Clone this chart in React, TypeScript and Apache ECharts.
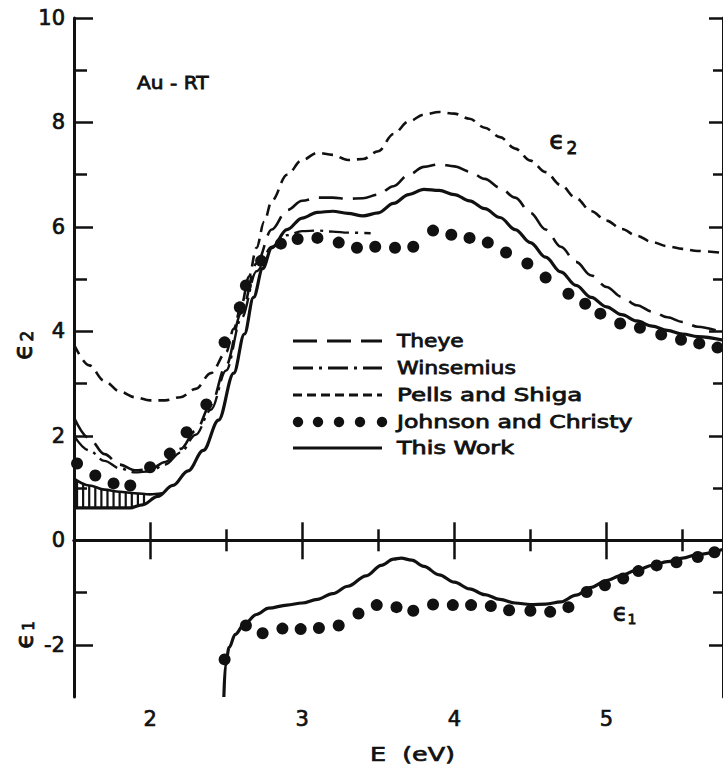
import React, { useEffect, useRef } from 'react';
import * as echarts from 'echarts';

const FONT = 'DejaVu Sans';
const INK = '#111';

// Axis ranges / ticks
const X_MIN = 1.5;
const X_MAX = 5.766;
const Y_MIN = -3;
const Y_MAX = 10;
const X_MAJOR = [2, 3, 4, 5];
const X_MINOR = [2.5, 3.5, 4.5, 5.5];
const Y_MAJOR = [-2, 0, 2, 4, 6, 8, 10];
const Y_MINOR = [-1, 1, 3, 5, 7, 9];

// eps2 curves
const PELLS_X = [1.5, 1.6, 1.7, 1.8, 1.9, 2.0, 2.1, 2.2, 2.3, 2.4, 2.5, 2.55, 2.6, 2.65, 2.7, 2.75, 2.8, 2.9, 3.0, 3.1, 3.2, 3.3, 3.4, 3.5, 3.6, 3.7, 3.8, 3.9, 4.0, 4.1, 4.2, 4.3, 4.4, 4.5, 4.6, 4.7, 4.8, 4.9, 5.0, 5.1, 5.2, 5.3, 5.4, 5.5, 5.6, 5.77];
const PELLS_Y = [3.75, 3.35, 3.05, 2.85, 2.74, 2.68, 2.68, 2.74, 2.9, 3.2, 3.6, 4.05, 4.5, 5.05, 5.6, 6.1, 6.5, 7.0, 7.28, 7.42, 7.38, 7.28, 7.3, 7.45, 7.78, 8.02, 8.15, 8.2, 8.17, 8.07, 7.9, 7.72, 7.5, 7.27, 7.05, 6.8, 6.55, 6.3, 6.12, 5.96, 5.83, 5.71, 5.63, 5.58, 5.54, 5.5];

const THEYE_X = [1.5, 1.6, 1.7, 1.8, 1.9, 2.0, 2.1, 2.2, 2.3, 2.4, 2.5, 2.6, 2.7, 2.8, 2.9, 3.0, 3.1, 3.2, 3.3, 3.4, 3.5, 3.6, 3.7, 3.8, 3.9, 4.0, 4.1, 4.2, 4.3, 4.4, 4.5, 4.6, 4.7, 4.8, 4.9, 5.0, 5.1, 5.2, 5.3, 5.4, 5.5, 5.6, 5.77];
const THEYE_Y = [2.35, 1.95, 1.65, 1.45, 1.34, 1.36, 1.5, 1.75, 2.1, 2.6, 3.35, 4.35, 5.3, 5.95, 6.32, 6.5, 6.56, 6.56, 6.54, 6.55, 6.62, 6.78, 7.0, 7.15, 7.2, 7.16, 7.06, 6.92, 6.75, 6.56, 6.27, 5.95, 5.62, 5.33, 5.07, 4.85, 4.66, 4.5, 4.38, 4.27, 4.18, 4.09, 3.97];

const WINS_X = [1.5, 1.6, 1.7, 1.8, 1.9, 2.0, 2.1, 2.2, 2.3, 2.4, 2.5, 2.6, 2.7, 2.8, 2.9, 3.0, 3.1, 3.2, 3.3, 3.45];
const WINS_Y = [2.0, 1.72, 1.52, 1.38, 1.3, 1.32, 1.45, 1.68, 2.02, 2.5, 3.25, 4.25, 5.15, 5.62, 5.84, 5.92, 5.93, 5.91, 5.89, 5.88];

const WORK2_X = [1.5, 1.87, 1.95, 2.05, 2.15, 2.25, 2.35, 2.45, 2.55, 2.62, 2.68, 2.74, 2.8, 2.9, 3.0, 3.1, 3.2, 3.3, 3.4, 3.5, 3.6, 3.7, 3.8, 3.9, 4.0, 4.1, 4.2, 4.3, 4.4, 4.5, 4.6, 4.7, 4.8, 4.9, 5.0, 5.1, 5.2, 5.3, 5.4, 5.5, 5.6, 5.77];
const WORK2_Y = [0.62, 0.62, 0.68, 0.84, 1.05, 1.33, 1.72, 2.3, 3.2, 3.95, 4.65, 5.2, 5.6, 5.95, 6.17, 6.28, 6.3, 6.26, 6.21, 6.27, 6.45, 6.62, 6.72, 6.7, 6.62, 6.5, 6.35, 6.18, 5.95, 5.7, 5.42, 5.14, 4.88, 4.65, 4.47, 4.32, 4.2, 4.1, 4.02, 3.95, 3.9, 3.83];

// upper bound of "This Work" at low energy (hatched range)
const WORK2_UP_X = [1.5, 1.6, 1.7, 1.8, 1.9, 2.0, 2.08];
const WORK2_UP_Y = [1.18, 1.05, 0.97, 0.93, 0.9, 0.88, 0.9];
const HATCH_X = [1.52, 1.56, 1.6, 1.64, 1.68, 1.72, 1.76, 1.8, 1.84, 1.88, 1.92, 1.96];
const HATCH_TOP = [1.15, 1.1, 1.06, 1.02, 0.99, 0.97, 0.95, 0.93, 0.92, 0.91, 0.9, 0.89];
const HATCH_BOTTOM = [0.62, 0.62, 0.62, 0.62, 0.62, 0.62, 0.62, 0.62, 0.62, 0.63, 0.65, 0.69];

const JC2_X = [1.52, 1.64, 1.76, 1.87, 2.0, 2.13, 2.24, 2.37, 2.49, 2.59, 2.63, 2.73, 2.86, 2.97, 3.1, 3.24, 3.36, 3.48, 3.61, 3.73, 3.86, 3.98, 4.1, 4.22, 4.34, 4.48, 4.6, 4.75, 4.86, 4.96, 5.09, 5.22, 5.36, 5.49, 5.61, 5.73];
const JC2_Y = [1.47, 1.24, 1.09, 1.05, 1.4, 1.66, 2.07, 2.6, 3.79, 4.46, 4.88, 5.35, 5.68, 5.77, 5.79, 5.7, 5.6, 5.62, 5.6, 5.62, 5.93, 5.85, 5.79, 5.7, 5.51, 5.3, 5.03, 4.72, 4.53, 4.34, 4.15, 4.07, 3.94, 3.84, 3.77, 3.69];

// eps1 curves
const WORK1_X = [2.485, 2.495, 2.52, 2.56, 2.62, 2.7, 2.78, 2.9, 3.0, 3.1, 3.2, 3.3, 3.42, 3.52, 3.6, 3.65, 3.72, 3.8, 3.9, 4.0, 4.1, 4.2, 4.3, 4.4, 4.5, 4.6, 4.7, 4.8, 4.9, 5.0, 5.1, 5.2, 5.3, 5.4, 5.5, 5.6, 5.77];
const WORK1_Y = [-3.0, -2.4, -2.05, -1.8, -1.6, -1.42, -1.3, -1.24, -1.2, -1.13, -1.02, -0.88, -0.68, -0.48, -0.36, -0.34, -0.38, -0.5, -0.66, -0.8, -0.93, -1.04, -1.13, -1.2, -1.23, -1.22, -1.18, -1.05, -0.9, -0.77, -0.67, -0.57, -0.48, -0.41, -0.34, -0.27, -0.17];

const JC1_X = [2.49, 2.63, 2.74, 2.87, 2.99, 3.11, 3.24, 3.37, 3.49, 3.62, 3.73, 3.86, 3.99, 4.11, 4.24, 4.36, 4.5, 4.63, 4.75, 4.87, 4.99, 5.11, 5.21, 5.33, 5.46, 5.6, 5.71];
const JC1_Y = [-2.28, -1.63, -1.78, -1.69, -1.7, -1.68, -1.63, -1.4, -1.24, -1.28, -1.35, -1.23, -1.24, -1.24, -1.26, -1.34, -1.35, -1.37, -1.28, -0.99, -0.86, -0.73, -0.59, -0.48, -0.42, -0.32, -0.23];

// Legend
const LEGEND_LABELS = ['Theye', 'Winsemius', 'Pells and Shiga', 'Johnson and Christy', 'This Work'];

const zip = (xs: number[], ys: number[]) => xs.map((x, i) => [x, ys[i]]);

const DASH_THEYE = [24, 10];
const DASH_WINS = [20, 6, 3, 6];
const DASH_PELLS = [11, 7];

function buildOption() {
  const xBase = { type: 'value', min: X_MIN, max: X_MAX, splitLine: { show: false } };
  const yBase = { type: 'value', min: Y_MIN, max: Y_MAX, splitLine: { show: false } };
  const axisLineOn = { show: true, lineStyle: { color: INK, width: 3 } };
  const tick = (vals: number[], len: number) => ({
    show: true,
    inside: true,
    length: len,
    customValues: vals,
    lineStyle: { color: INK, width: 2.5 },
  });
  const noLabel = { show: false };
  const labelStyle = { color: INK, fontSize: 21, fontFamily: FONT, textBorderColor: INK, textBorderWidth: 0.7 };

  const lineSeries = (name: string, xs: number[], ys: number[], type: any, width: number) => ({
    name,
    type: 'line',
    data: zip(xs, ys),
    smooth: 0.35,
    smoothMonotone: 'x',
    showSymbol: false,
    symbol: 'none',
    silent: true,
    lineStyle: { color: INK, width, type, cap: 'butt' },
    z: 3,
  });

  const legendRows = [341, 368, 395, 422, 448];
  const legendScale = [1.21, 1.22, 1.36, 1.31, 1.33];
  const L0 = 293;
  const L1 = 382;
  const legendGraphics: any[] = [];
  const dashes = [DASH_THEYE, DASH_WINS, [9, 5], null, null];
  legendRows.forEach((y, i) => {
    if (i === 3) {
      [298, 318, 339, 360, 382].forEach((cx) =>
        legendGraphics.push({ type: 'circle', shape: { cx, cy: y, r: 5.2 }, style: { fill: INK }, z: 10 })
      );
    } else {
      legendGraphics.push({
        type: 'line',
        shape: { x1: L0, y1: y, x2: L1, y2: y },
        style: { stroke: INK, lineWidth: i === 4 ? 3.2 : 2.8, lineDash: dashes[i] || undefined },
        z: 10,
      });
    }
    legendGraphics.push({
      type: 'text',
      x: 397,
      y,
      scaleX: legendScale[i],
      style: {
        text: LEGEND_LABELS[i], fill: INK, stroke: INK, lineWidth: 0.8,
        fontSize: 18, fontFamily: FONT, verticalAlign: 'middle', align: 'left',
      },
      z: 10,
    });
  });

  const txt = (text: string, x: number, y: number, size: number, extra: any = {}) => ({
    type: 'text',
    x,
    y,
    ...extra,
    style: { text, fill: INK, stroke: INK, lineWidth: 0.8, fontSize: size, fontFamily: FONT, align: 'center', verticalAlign: 'middle' },
    z: 10,
  });

  return {
    animation: false,
    backgroundColor: '#fff',
    grid: { left: 74, top: 18, width: 651, height: 679, containLabel: false },
    xAxis: [
      { ...xBase, position: 'bottom', axisLine: axisLineOn, axisTick: tick(X_MAJOR, 18), axisLabel: { ...labelStyle, customValues: X_MAJOR, margin: 11 } },
      { ...xBase, position: 'bottom', axisLine: { show: false }, axisTick: tick(X_MINOR, 11), axisLabel: noLabel },
      { ...xBase, position: 'top', axisLine: axisLineOn, axisTick: tick(X_MAJOR, 19), axisLabel: noLabel },
      { ...xBase, position: 'top', axisLine: { show: false }, axisTick: tick(X_MINOR, 11), axisLabel: noLabel },
    ],
    yAxis: [
      { ...yBase, position: 'left', axisLine: axisLineOn, axisTick: tick(Y_MAJOR, 19), axisLabel: { ...labelStyle, customValues: Y_MAJOR, margin: 9 } },
      { ...yBase, position: 'left', axisLine: { show: false }, axisTick: tick(Y_MINOR, 13), axisLabel: noLabel },
      { ...yBase, position: 'right', axisLine: axisLineOn, axisTick: tick(Y_MAJOR, 14), axisLabel: noLabel },
      { ...yBase, position: 'right', axisLine: { show: false }, axisTick: tick(Y_MINOR, 10), axisLabel: noLabel },
    ],
    series: [
      lineSeries('Pells and Shiga', PELLS_X, PELLS_Y, DASH_PELLS, 2.6),
      lineSeries('Theye', THEYE_X, THEYE_Y, DASH_THEYE, 2.6),
      lineSeries('Winsemius', WINS_X, WINS_Y, DASH_WINS, 2.4),
      lineSeries('This Work', WORK2_X, WORK2_Y, 'solid', 3.2),
      lineSeries('This Work upper', WORK2_UP_X, WORK2_UP_Y, 'solid', 2.6),
      {
        name: 'hatch',
        type: 'custom',
        silent: true,
        data: HATCH_X.map((x, i) => [x, HATCH_BOTTOM[i], HATCH_TOP[i]]),
        encode: { x: 0, y: [1, 2] },
        renderItem: (params: any, api: any) => {
          const p1 = api.coord([api.value(0), api.value(1)]);
          const p2 = api.coord([api.value(0), api.value(2)]);
          return {
            type: 'line',
            shape: { x1: p1[0], y1: p1[1], x2: p2[0], y2: p2[1] },
            style: { stroke: INK, lineWidth: 2.2 },
          };
        },
        z: 3,
      },
      {
        name: 'Johnson and Christy',
        type: 'scatter',
        data: zip(JC2_X, JC2_Y),
        symbol: 'circle',
        symbolSize: 12,
        itemStyle: { color: INK, opacity: 1 },
        silent: true,
        z: 4,
      },
      {
        ...lineSeries('This Work eps1', WORK1_X, WORK1_Y, 'solid', 3.2),
        markLine: {
          silent: true,
          symbol: ['none', 'none'],
          label: { show: false },
          lineStyle: { color: INK, width: 2, type: 'solid', opacity: 1 },
          data: [{ yAxis: 0 }],
        },
      },
      {
        name: 'Johnson and Christy eps1',
        type: 'scatter',
        data: zip(JC1_X, JC1_Y),
        symbol: 'circle',
        symbolSize: 12,
        itemStyle: { color: INK, opacity: 1 },
        silent: true,
        z: 4,
      },
    ],
    graphic: [
      { type: 'text', x: 137, y: 83, scaleX: 1.12, style: { text: 'Au - RT', fill: INK, stroke: INK, lineWidth: 0.8, fontSize: 18, fontFamily: FONT, align: 'left', verticalAlign: 'middle' }, z: 10 },
      { type: 'text', x: 370, y: 754, scaleX: 1.27, style: { text: 'E  (eV)', fill: INK, stroke: INK, lineWidth: 0.7, fontSize: 20, fontFamily: FONT, align: 'left', verticalAlign: 'middle' }, z: 10 },
      txt('ϵ', 23, 352, 26, { rotation: Math.PI / 2 }),
      txt('2', 27, 336, 17, { rotation: Math.PI / 2 }),
      txt('ϵ', 24, 641, 25, { rotation: Math.PI / 2 }),
      txt('1', 29, 626, 15, { rotation: Math.PI / 2 }),
      txt('ϵ', 557, 140, 25),
      txt('2', 572, 148, 17),
      txt('ϵ', 620, 613, 24),
      txt('1', 632, 619, 14),
      ...legendGraphics,
    ],
  };
}

export default function App() {
  const ref = useRef<HTMLDivElement>(null);
  useEffect(() => {
    if (!ref.current) return;
    const chart = echarts.init(ref.current, null, { renderer: 'svg' });
    chart.setOption(buildOption() as any);
    return () => chart.dispose();
  }, []);
  return (
    <div
      ref={ref}
      style={{ position: 'absolute', left: 0, top: 0, width: 723, height: 765, background: '#fff', overflow: 'hidden' }}
    />
  );
}
